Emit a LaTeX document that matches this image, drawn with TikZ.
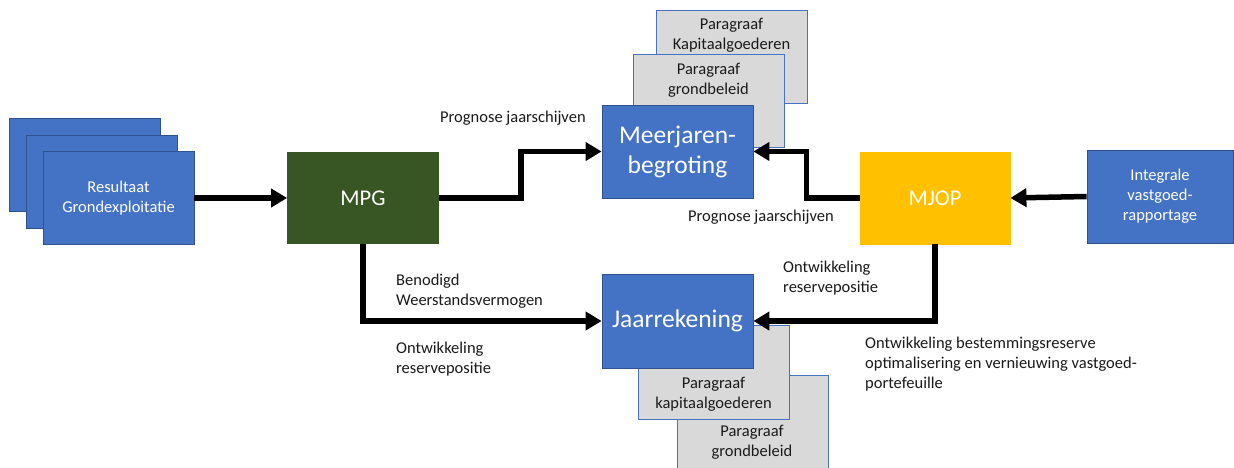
\documentclass[tikz,border=0pt]{standalone}
\usepackage{fontspec}
\setmainfont{Carlito}
\usetikzlibrary{arrows.meta}
\definecolor{boxblue}{HTML}{4472C4}
\definecolor{boxblueline}{HTML}{2F528F}
\definecolor{mpggreen}{HTML}{375623}
\definecolor{mjopyellow}{HTML}{FFC000}
\definecolor{paragray}{HTML}{D9D9D9}
\definecolor{labeltext}{HTML}{1A1A1A}
\tikzset{
  bluebox/.style={draw=boxblueline, line width=0.8pt, fill=boxblue, text=white,
    minimum width=151pt, minimum height=93pt, inner sep=0pt, align=center},
  greenbox/.style={bluebox, draw=mpggreen, fill=mpggreen},
  yellowbox/.style={bluebox, draw=mjopyellow, fill=mjopyellow},
  parabox/.style={draw=boxblue, line width=0.8pt, fill=paragray,
    minimum width=151pt, minimum height=93pt, inner sep=0pt},
  paratext/.style={text=labeltext, align=center, inner sep=0pt,
    font=\fontsize{16.5}{20}\selectfont},
  smalltxt/.style={font=\fontsize{16.5}{20}\selectfont},
  bigtxt/.style={font=\fontsize{25.5}{30}\selectfont},
  midtxt/.style={font=\fontsize{22.5}{26}\selectfont},
  flowlabel/.style={text=labeltext, anchor=west, align=left, inner sep=0pt,
    font=\fontsize{16.5}{20}\selectfont},
  flow/.style={line width=5.5pt, -{Triangle[length=16pt,width=18pt]}},
}
\begin{document}
\begin{tikzpicture}[x=1pt, y=-1pt]
\clip (0,0) rectangle (1234,468);
\fill[white] (0,0) rectangle (1234,468);

% stacked input boxes on the left
\node[bluebox] (res1) at (85,164.5) {};
\node[bluebox] (res2) at (101.5,181.5) {};
\node[bluebox, smalltxt] (res3) at (118.5,198) {Resultaat\\Grondexploitatie};

% MPG
\node[greenbox, midtxt, minimum height=91pt] (mpg) at (363,198) {MPG};

% paragraphs behind the multi-year budget
\node[parabox] (pkap) at (731.5,56.5) {};
\node[paratext] (pkapt) at (731.5,35) {Paragraaf\\Kapitaalgoederen};
\node[parabox] (pgrond) at (708.5,100.5) {};
\node[paratext] (pgrondt) at (708.5,80) {Paragraaf\\grondbeleid};
\node[bluebox, bigtxt] (mjb) at (677.5,151.5) {Meerjaren-\\begroting};

% MJOP and the real-estate report
\node[yellowbox, midtxt, minimum width=150pt, minimum height=92pt] (mjop) at (935,198) {MJOP};
\node[bluebox, smalltxt, minimum width=146pt] (integ) at (1160,196.5) {Integrale\\vastgoed-\\rapportage};

% paragraphs behind the annual accounts
\node[parabox, minimum height=100pt] (jgrond) at (753,425) {};
\node[paratext] (jgrondt) at (752,442) {Paragraaf\\grondbeleid};
\node[parabox, minimum height=94pt] (jkap) at (713.5,372) {};
\node[paratext] (jkapt) at (713.5,394) {Paragraaf\\kapitaalgoederen};
\node[bluebox, bigtxt, minimum height=94pt] (jr) at (677.5,321) {Jaarrekening};

% connectors
\draw[flow] (res3.east) -- (mpg.west);
\draw[flow] (mpg.east) -- ++(82,0) |- (mjb.west);
\draw[flow] (mjop.west) -- ++(-53,0) |- (mjb.east);
\draw[flow] (integ.west) -- (mjop.east);
\draw[flow] (mpg.south) |- (jr.west);
\draw[flow] (mjop.south) |- (jr.east);

% connector labels
\node[flowlabel] (lprog1) at (440,118) {Prognose jaarschijven};
\node[flowlabel] (lprog2) at (688,217) {Prognose jaarschijven};
\node[flowlabel] (lweer) at (396,291) {Benodigd\\Weerstandsvermogen};
\node[flowlabel] (lres1) at (396,359) {Ontwikkeling\\reservepositie};
\node[flowlabel] (lres2) at (783,278) {Ontwikkeling\\reservepositie};
\node[flowlabel] (lbest) at (865,364) {Ontwikkeling bestemmingsreserve\\optimalisering en vernieuwing vastgoed-\\portefeuille};
\end{tikzpicture}
\end{document}
